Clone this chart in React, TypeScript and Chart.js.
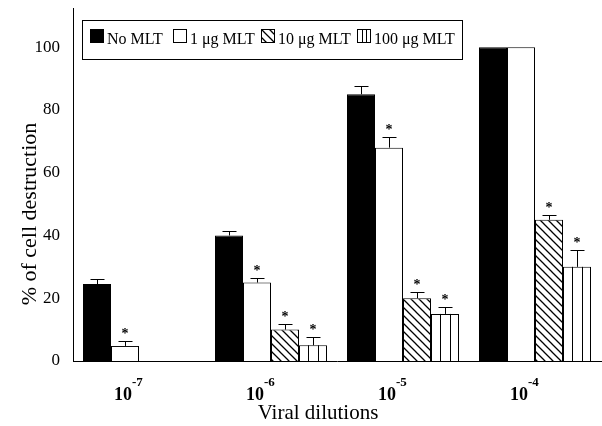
import React, { useEffect, useRef } from "react";
import { Chart, registerables } from "chart.js";

Chart.register(...registerables);

const categories = ["-7", "-6", "-5", "-4"]; // exponents of 10
const tickBase = "10";
const seriesLabels = ["No MLT", "1 μg MLT", "10 μg MLT", "100 μg MLT"];
const noMlt = [24.5, 40, 85, 100];
const noMltErr = [1.5, 1.5, 2.5, 0];
const mlt1 = [4.8, 25, 68, 100];
const mlt1Err = [1.5, 1.5, 3.5, 0];
const mlt10 = [0, 10, 20, 45];
const mlt10Err = [0, 1.8, 2, 1.5];
const mlt100 = [0, 5, 15, 30];
const mlt100Err = [0, 2.8, 2.2, 5.4];
const signif1 = [true, true, true, false];
const signif10 = [false, true, true, true];
const signif100 = [false, true, true, true];
const yTicks = [0, 20, 40, 60, 80, 100];
const yTitle = "% of cell destruction";
const xTitle = "Viral dilutions";

const FONT = "'Liberation Serif', 'Times New Roman', serif";

function makeHatch(): CanvasPattern | string {
  const c = document.createElement("canvas");
  c.width = 8;
  c.height = 8;
  const g = c.getContext("2d");
  if (!g) return "#fff";
  g.fillStyle = "#fff";
  g.fillRect(0, 0, 8, 8);
  g.strokeStyle = "#000";
  g.lineWidth = 1.3;
  g.beginPath();
  g.moveTo(-1, -1);
  g.lineTo(9, 9);
  g.moveTo(-1, 7);
  g.lineTo(1, 9);
  g.moveTo(7, -1);
  g.lineTo(9, 1);
  g.stroke();
  const p = g.createPattern(c, "repeat");
  return p || "#fff";
}

export default function App() {
  const ref = useRef<HTMLCanvasElement | null>(null);
  useEffect(() => {
    if (!ref.current) return;
    const hatch = makeHatch();
    const errs = [noMltErr, mlt1Err, mlt10Err, mlt100Err];
    const sigs = [null, signif1, signif10, signif100];

    const overlay = {
      id: "overlay",
      afterDatasetsDraw(chart: any) {
        const ctx = chart.ctx as CanvasRenderingContext2D;
        const ys = chart.scales.y;
        ctx.save();
        const m3 = chart.getDatasetMeta(3);
        ctx.strokeStyle = "#000";
        ctx.lineWidth = 1;
        m3.data.forEach((bar: any) => {
          const h = bar.base - bar.y;
          if (h <= 1) return;
          const left = bar.x - bar.width / 2;
          for (let k = 1; k <= 2; k++) {
            const xx = Math.round(left + (bar.width * k) / 3) + 0.5;
            ctx.beginPath();
            ctx.moveTo(xx, bar.y);
            ctx.lineTo(xx, bar.base);
            ctx.stroke();
          }
        });
        for (let d = 0; d < 4; d++) {
          const meta = chart.getDatasetMeta(d);
          const vals = chart.data.datasets[d].data as number[];
          meta.data.forEach((bar: any, i: number) => {
            const e = errs[d][i];
            const v = vals[i];
            if (!v) return;
            const x = Math.round(bar.x) + 0.5;
            let topY = bar.y;
            if (e > 0) {
              topY = ys.getPixelForValue(v + e);
              const ty = Math.round(topY) + 0.5;
              ctx.strokeStyle = "#000";
              ctx.lineWidth = 1;
              ctx.beginPath();
              ctx.moveTo(x, bar.y);
              ctx.lineTo(x, ty);
              ctx.moveTo(x - 7, ty);
              ctx.lineTo(x + 7, ty);
              ctx.stroke();
            }
            const s = sigs[d];
            if (s && s[i]) {
              ctx.fillStyle = "#000";
              ctx.font = "bold 14px " + FONT;
              ctx.textAlign = "center";
              ctx.textBaseline = "alphabetic";
              ctx.fillText("*", bar.x, topY - 3);
            }
          });
        }
        ctx.restore();
      },
      afterDraw(chart: any) {
        const ctx = chart.ctx as CanvasRenderingContext2D;
        const xs = chart.scales.x;
        ctx.save();
        ctx.fillStyle = "#000";
        categories.forEach((exp, i) => {
          const cx = xs.getPixelForValue(i);
          ctx.font = "bold 18px " + FONT;
          ctx.textAlign = "right";
          ctx.textBaseline = "alphabetic";
          ctx.fillText(tickBase, cx - 7, 400);
          ctx.font = "bold 13px " + FONT;
          ctx.textAlign = "left";
          ctx.fillText(exp, cx - 7, 386);
        });
        ctx.font = "21px " + FONT;
        ctx.textAlign = "center";
        ctx.fillText(xTitle, 318, 419);
        ctx.save();
        ctx.translate(36, 214);
        ctx.rotate(-Math.PI / 2);
        ctx.font = "22px " + FONT;
        ctx.textAlign = "center";
        ctx.textBaseline = "alphabetic";
        ctx.fillText(yTitle, 0, 0);
        ctx.restore();
        const lx0 = 82, ly0 = 20, lx1 = 462, ly1 = 59;
        ctx.fillStyle = "#fff";
        ctx.fillRect(lx0, ly0, lx1 - lx0, ly1 - ly0);
        ctx.strokeStyle = "#000";
        ctx.lineWidth = 1;
        ctx.strokeRect(lx0 + 0.5, ly0 + 0.5, lx1 - lx0, ly1 - ly0);
        const boxX = [90, 173, 261, 357];
        const sz = 14;
        const by = 29;
        ctx.font = "16px " + FONT;
        ctx.textAlign = "left";
        ctx.textBaseline = "alphabetic";
        seriesLabels.forEach((lab, k) => {
          const bx = boxX[k];
          if (k === 0) {
            ctx.fillStyle = "#000";
            ctx.fillRect(bx, by, sz, sz);
          } else {
            ctx.fillStyle = k === 2 ? (hatch as any) : "#fff";
            ctx.fillRect(bx, by, sz, sz);
            ctx.strokeStyle = "#000";
            ctx.strokeRect(bx + 0.5, by + 0.5, sz - 1, sz - 1);
            if (k === 3) {
              ctx.beginPath();
              ctx.moveTo(bx + 5.5, by);
              ctx.lineTo(bx + 5.5, by + sz);
              ctx.moveTo(bx + 9.5, by);
              ctx.lineTo(bx + 9.5, by + sz);
              ctx.stroke();
            }
          }
          ctx.fillStyle = "#000";
          ctx.fillText(lab, bx + sz + 3, 44);
        });
        ctx.restore();
      },
    };

    const chart = new Chart(ref.current, {
      type: "bar",
      data: {
        labels: categories,
        datasets: [
          { label: seriesLabels[0], data: noMlt, backgroundColor: "#000", borderColor: "#000", borderWidth: 1 },
          { label: seriesLabels[1], data: mlt1, backgroundColor: "#fff", borderColor: "#000", borderWidth: 1 },
          { label: seriesLabels[2], data: mlt10, backgroundColor: hatch as any, borderColor: "#000", borderWidth: 1 },
          { label: seriesLabels[3], data: mlt100, backgroundColor: "#fff", borderColor: "#000", borderWidth: 1 },
        ],
      },
      options: {
        animation: false,
        responsive: false,
        layout: { padding: { top: 8, right: 1, left: 0, bottom: 0 } },
        datasets: { bar: { barPercentage: 1, categoryPercentage: 112 / 132 } },
        plugins: { legend: { display: false }, tooltip: { enabled: false } },
        scales: {
          x: {
            grid: { display: false, drawTicks: false },
            border: { display: true, color: "#000", width: 1 },
            ticks: { display: false },
            afterFit: (s: any) => { s.height = 65; s.paddingLeft = 0; s.paddingRight = 0; },
          },
          y: {
            min: 0,
            max: 112.5,
            grid: { display: false, drawTicks: false },
            border: { display: true, color: "#000", width: 1 },
            ticks: { stepSize: 20, padding: 13, color: "#000", font: { family: FONT, size: 17 } },
            afterBuildTicks: (s: any) => {
              s.ticks = yTicks.map((v) => ({ value: v }));
            },
            afterFit: (s: any) => { s.width = 73; s.paddingTop = 0; s.paddingBottom = 0; },
          },
        },
      },
      plugins: [overlay],
    });
    return () => chart.destroy();
  }, []);
  return (
    <div style={{ position: "fixed", left: 0, top: 0, width: 602, height: 426, background: "#fff" }}>
      <canvas ref={ref} width={602} height={426} />
    </div>
  );
}
